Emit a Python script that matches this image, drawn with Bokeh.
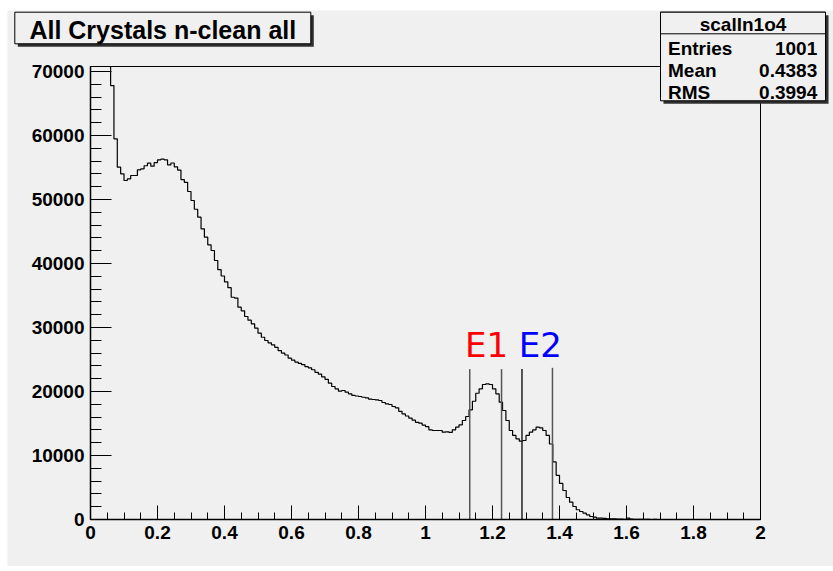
import numpy as np
from bokeh.plotting import figure
from bokeh.models import Range1d, FixedTicker, LinearAxis
from bokeh.core.properties import value
from bokeh.embed import file_html
from bokeh.resources import INLINE

# ---------------- data ----------------
bin_width = 0.01
bin_lefts = [round(i * bin_width, 2) for i in range(200)]
counts = [
    96000, 94000, 91000, 87000, 82000, 76000, 67800, 59480, 55050, 54010,
    52970, 53230, 53750, 53750, 54640, 54800, 55270, 55670, 55200, 55750,
    56200, 56300, 56200, 55420, 55700, 55100, 54600, 53120, 52680, 51250,
    49840, 48480, 47240, 45420, 44110, 42920, 42030, 40470, 39040, 38050,
    37130, 36220, 34730, 34600, 33170, 32600, 31720, 31150, 30580, 29890,
    29110, 28480, 27970, 27600, 27300, 26900, 26400, 26000, 25700, 25200,
    24900, 24600, 24400, 24200, 23900, 23700, 23400, 23000, 22700, 22300,
    21900, 21300, 20780, 20420, 20050, 20160, 19900, 19640, 19380, 19300,
    19220, 19100, 19010, 18800, 18750, 18700, 18590, 18280, 18070, 17970,
    17660, 17450, 16900, 16500, 16170, 15850, 15520, 15180, 15050, 14760,
    14500, 14010, 13910, 13910, 13910, 13650, 13700, 13600, 14010, 14430,
    14800, 15470, 16090, 17140, 18480, 19730, 20420, 21090, 21200, 21090,
    20420, 19640, 18330, 17030, 15470, 13910, 13130, 12610, 12240, 12340,
    13130, 13650, 14010, 14430, 14320, 13910, 13130, 11800, 9000, 6900,
    5630, 4530, 3440, 2710, 2030, 1520, 1250, 990, 730, 470,
    360, 220, 200, 180, 100, 100, 90, 50, 50, 40,
    200, 50, 30, 20, 20, 10, 10, 0, 10, 0,
    0, 0, 0, 0, 0, 0, 0, 0, 0, 0,
    0, 0, 0, 0, 0, 0, 0, 0, 0, 0,
    0, 0, 0, 0, 0, 0, 0, 0, 0, 0,
]

marker_x = [1.132, 1.227, 1.288, 1.379]
marker_top = [23500, 23500, 23500, 23700]
marker_colors = ["#555555", "#555555", "#222222", "#555555"]
peak_names = ["E1", "E2"]
peak_label_x = [1.182, 1.343]
peak_colors = ["#ff0000", "#0000ff"]

x_ticks = [0.0, 0.2, 0.4, 0.6, 0.8, 1.0, 1.2, 1.4, 1.6, 1.8, 2.0]
x_tick_labels = ["0", "0.2", "0.4", "0.6", "0.8", "1", "1.2", "1.4", "1.6", "1.8", "2"]
y_ticks = [0, 10000, 20000, 30000, 40000, 50000, 60000, 70000]
y_tick_labels = ["0", "10000", "20000", "30000", "40000", "50000", "60000", "70000"]

title_text = "All Crystals n-clean all"
stats_name = "scalln1o4"
stats_keys = ["Entries", "Mean", "RMS"]
stats_vals = ["1001", "0.4383", "0.3994"]

# ---------------- geometry ----------------
BG = "#f0f0f0"
FONT = "Liberation Sans"
X0, X1, Y0, Y1 = 0.0, 2.0, 0.0, 70781.0     # histogram frame in data units
FL, FR, FT, FB = 90.0, 760.0, 66.0, 519.0    # the same frame on the page (pixels)
PAGE_L, PAGE_T, W, H = 7, 10, 826, 556       # grey canvas on the page
BASE_SHIFT = 0.36                            # em correction for the text baseline


def px2x(px):
    return X0 + (px - FL) * (X1 - X0) / (FR - FL)


def px2y(py):
    return Y0 + (FB - py) * (Y1 - Y0) / (FB - FT)


p = figure(width=W, height=H, output_backend="svg", toolbar_location=None,
           x_range=Range1d(px2x(PAGE_L), px2x(PAGE_L + W)),
           y_range=Range1d(px2y(PAGE_T + H), px2y(PAGE_T)),
           x_axis_location=None, y_axis_location=None, title=None,
           min_border=0, background_fill_color=BG, border_fill_color=BG,
           outline_line_color=None, margin=(PAGE_T, 0, 5, PAGE_L))
p.grid.visible = False
p.grid.grid_line_color = None

x_minor = [round(0.05 * i, 2) for i in range(41) if round(0.05 * i, 2) not in x_ticks]
y_minor = [2000 * i for i in range(36) if 2000 * i not in y_ticks]

xaxis = LinearAxis(fixed_location=Y0, bounds=(X0, X1))
yaxis = LinearAxis(fixed_location=X0, bounds=(Y0, Y1))
for ax, ticks, minor, labels, tin, tmin in [
    (xaxis, x_ticks, x_minor, x_tick_labels, 14, 7),
    (yaxis, y_ticks, y_minor, y_tick_labels, 21, 11),
]:
    ax.ticker = FixedTicker(ticks=ticks, minor_ticks=minor)
    ax.major_label_overrides = {t: l for t, l in zip(ticks, labels)}
    ax.major_tick_in = tin
    ax.major_tick_out = 0
    ax.minor_tick_in = tmin
    ax.minor_tick_out = 0
    ax.major_tick_line_color = "black"
    ax.minor_tick_line_color = "black"
    ax.axis_line_color = "black"
    ax.axis_line_width = 1.5
    ax.major_label_text_font = FONT
    ax.major_label_text_font_style = "bold"
    ax.major_label_text_font_size = "19px"
    ax.major_label_text_color = "black"
    ax.major_label_standoff = 6

# frame of the histogram
p.quad(left=[X0], right=[X1], bottom=[Y0], top=[Y1], fill_color=None,
       line_color="black", line_width=1)

# histogram (clipped at the top of the frame, as ROOT draws it)
shown = list(np.minimum(np.array(counts + [counts[-1]], dtype=float), Y1))
p.step(x=bin_lefts + [X1], y=shown, mode="after", line_color="black", line_width=1.2)

# marker lines and peak names
p.segment(x0=marker_x, y0=[Y0] * 4, x1=marker_x, y1=marker_top,
          line_color=marker_colors, line_width=1.5)
PEAK_SIZE = 34
p.text(x=peak_label_x, y=[px2y(356.7 - BASE_SHIFT * PEAK_SIZE)] * 2, text=peak_names,
       text_color=peak_colors, text_font=value("DejaVu Sans"),
       text_font_size=f"{PEAK_SIZE}px", text_align="center", text_baseline="alphabetic")

p.add_layout(xaxis, "below")
p.add_layout(yaxis, "left")


def box(l, r, t, b, fill, line=None, lw=1):
    p.quad(left=[px2x(l)], right=[px2x(r)], top=[px2y(t)], bottom=[px2y(b)],
           fill_color=fill, line_color=line, line_width=lw)


def label(px, py, txt, size, align):
    p.text(x=[px2x(px)], y=[px2y(py - BASE_SHIFT * size)], text=[txt], text_font=value(FONT),
           text_font_style="bold", text_font_size=f"{size}px", text_align=align,
           text_baseline="alphabetic", text_color="black")


# title box
box(17.3, 313.3, 14.7, 46.3, "#303030")
box(14.3, 310.3, 11.7, 43.3, BG, "black", 1)
label(162.3, 38.0, title_text, 25, "center")

# stats box
box(663, 828, 14.7, 103.3, "#303030")
box(660, 825, 11.7, 100.3, BG, "black", 1)
box(660, 825, 11.7, 33.3, BG, "black", 1)
label(742.5, 31.0, stats_name, 19, "center")
row_py = [55.0, 76.8, 98.8]
for k, v, py in zip(stats_keys, stats_vals, row_py):
    label(667.5, py, k, 19, "left")
    label(816.7, py, v, 19, "right")

open("out.html", "w").write(file_html(p, INLINE))
